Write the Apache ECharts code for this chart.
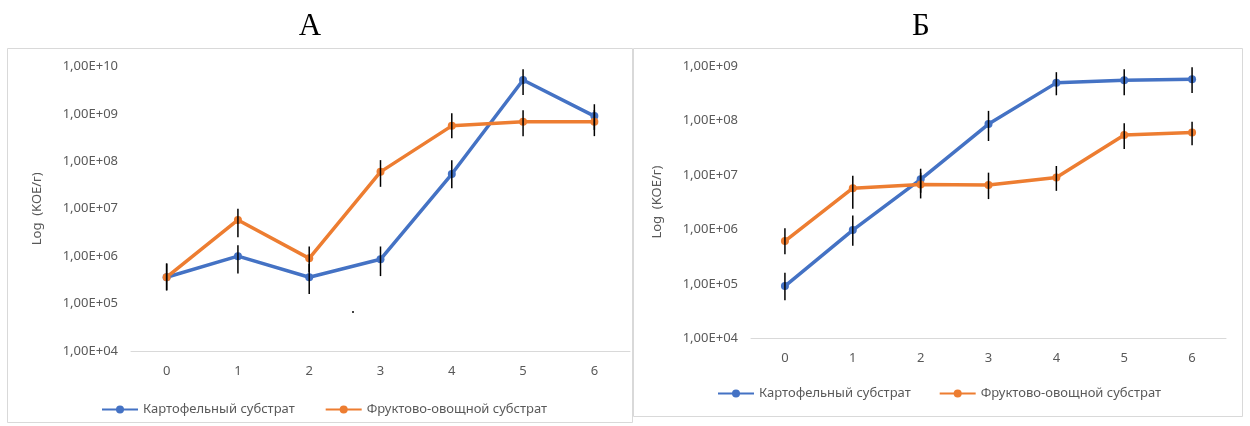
<!DOCTYPE html>
<html>
<head>
<meta charset="utf-8">
<script src="https://cdn.jsdelivr.net/npm/echarts@6/dist/echarts.min.js"></script>
<style>
html,body{margin:0;padding:0;background:#fff;}
#c{width:1250px;height:426px;}
</style>
</head>
<body>
<div id="c"></div>
<script>
// ---- data ----
const categories = ['0', '1', '2', '3', '4', '5', '6'];
const seriesNames = ['Картофельный субстрат', 'Фруктово-овощной субстрат'];
const panelTitles = ['А', 'Б'];
const yAxisName = 'Log  (KOE/г)';

// Panel А
const potatoA = [3.6e5, 1.0e6, 3.6e5, 8.6e5, 5.4e7, 5.2e9, 9.0e8];
const potatoA_low = [1.9e5, 4.3e5, 1.6e5, 3.8e5, 2.7e7, 2.5e9, 4.6e8];
const potatoA_high = [7.0e5, 1.7e6, 6.8e5, 1.6e6, 1.06e8, 8.7e9, 1.6e9];
const fruitA = [3.6e5, 5.8e6, 9.0e5, 6.0e7, 5.6e8, 6.8e8, 6.8e8];
const fruitA_low = [1.9e5, 2.5e6, 4.6e5, 2.9e7, 3.05e8, 3.4e8, 3.4e8];
const fruitA_high = [7.0e5, 1.0e7, 1.6e6, 1.06e8, 1.03e9, 1.2e9, 1.2e9];

// Panel Б
const potatoB = [9.1e4, 9.7e5, 8.3e6, 8.6e7, 4.9e8, 5.5e8, 5.7e8];
const potatoB_low = [5.0e4, 5.0e5, 4.7e6, 4.2e7, 2.9e8, 2.9e8, 3.2e8];
const potatoB_high = [1.6e5, 1.8e6, 1.3e7, 1.5e8, 7.7e8, 8.7e8, 9.5e8];
const fruitB = [6.1e5, 5.7e6, 6.7e6, 6.5e6, 9.0e6, 5.4e7, 6.0e7];
const fruitB_low = [3.5e5, 2.4e6, 3.7e6, 3.6e6, 5.1e6, 3.0e7, 3.5e7];
const fruitB_high = [1.05e6, 9.7e6, 1.1e7, 1.1e7, 1.46e7, 8.9e7, 9.5e7];

const yMinA = 1e4, yMaxA = 1e10;
const yMinB = 1e4, yMaxB = 1e9;

// ---- helpers ----
const BLUE = '#4472C4', ORANGE = '#ED7D31', TXT = '#595959', GRIDC = '#d9d9d9';
const FONT = 'Noto Sans';

function sci(v) {
  const e = Math.round(Math.log10(v));
  return '1,00E+' + (e < 10 ? '0' + e : '' + e);
}
function errData(low, high) {
  return categories.map((c, i) => [i, low[i], high[i]]);
}
function errSeries(idx, low, high) {
  return {
    type: 'custom',
    xAxisIndex: idx, yAxisIndex: idx,
    silent: true,
    z: 10,
    encode: { x: 0, y: [1, 2] },
    data: errData(low, high),
    renderItem: function (params, api) {
      const p1 = api.coord([api.value(0), api.value(1)]);
      const p2 = api.coord([api.value(0), api.value(2)]);
      return {
        type: 'line',
        shape: { x1: p1[0], y1: p1[1], x2: p2[0], y2: p2[1] },
        style: { stroke: '#000', lineWidth: 1.5 }
      };
    }
  };
}
function lineSeries(idx, name, data, color) {
  return {
    type: 'line', name: name,
    xAxisIndex: idx, yAxisIndex: idx,
    data: data,
    symbol: 'circle', symbolSize: 8,
    itemStyle: { color: color },
    lineStyle: { color: color, width: 3.5 },
    z: 3
  };
}
function xAx(idx, margin) {
  return {
    type: 'category', gridIndex: idx, data: categories, boundaryGap: true,
    axisLine: { lineStyle: { color: GRIDC, width: 1 } },
    axisTick: { show: false },
    axisLabel: { color: TXT, fontSize: 13, fontFamily: FONT, margin: margin },
    splitLine: { show: false }
  };
}
function yAx(idx, min, max, gap) {
  return {
    type: 'log', logBase: 10, gridIndex: idx, min: min, max: max, interval: 1,
    name: yAxisName, nameLocation: 'middle', nameRotate: 90, nameGap: gap,
    nameTextStyle: { color: TXT, fontSize: 13, fontFamily: FONT },
    axisLine: { show: false }, axisTick: { show: false },
    splitLine: { show: false },
    axisLabel: { color: TXT, fontSize: 13, fontFamily: FONT, margin: 13, formatter: sci }
  };
}

const chart = echarts.init(document.getElementById('c'), null, { renderer: 'canvas' });
chart.setOption({
  backgroundColor: '#fff',
  animation: false,
  title: [
    { text: panelTitles[0], left: 305, top: 6, textAlign: 'center',
      textStyle: { fontFamily: 'Liberation Serif', fontSize: 31, fontWeight: 'normal', color: '#000' } },
    { text: panelTitles[1], left: 916, top: 6, textAlign: 'center',
      textStyle: { fontFamily: 'Liberation Serif', fontSize: 31, fontWeight: 'normal', color: '#000' } }
  ],
  graphic: [
    { type: 'rect', shape: { x: 7.5, y: 48.5, width: 625, height: 374 }, style: { fill: null, stroke: GRIDC, lineWidth: 1 }, z: -1 },
    { type: 'rect', shape: { x: 633.5, y: 48.5, width: 609, height: 368 }, style: { fill: null, stroke: GRIDC, lineWidth: 1 }, z: -1 },
    { type: 'rect', shape: { x: 352, y: 311, width: 2, height: 2 }, style: { fill: '#444' } }
  ],
  legend: [
    { data: seriesNames, left: 96, top: 398, itemWidth: 36, itemHeight: 10, itemGap: 30,
      textStyle: { color: TXT, fontSize: 13, fontFamily: FONT } },
    { data: seriesNames, left: 712, top: 382, itemWidth: 36, itemHeight: 10, itemGap: 28,
      textStyle: { color: TXT, fontSize: 13, fontFamily: FONT } }
  ],
  grid: [
    { left: 131, top: 66.5, width: 499, height: 284.5 },
    { left: 751, top: 66, width: 475, height: 272.3 }
  ],
  xAxis: [xAx(0, 14), xAx(1, 13)],
  yAxis: [yAx(0, yMinA, yMaxA, 87), yAx(1, yMinB, yMaxB, 87)],
  series: [
    lineSeries(0, seriesNames[0], potatoA, BLUE),
    lineSeries(0, seriesNames[1], fruitA, ORANGE),
    lineSeries(1, seriesNames[0], potatoB, BLUE),
    lineSeries(1, seriesNames[1], fruitB, ORANGE),
    errSeries(0, potatoA_low, potatoA_high),
    errSeries(0, fruitA_low, fruitA_high),
    errSeries(1, potatoB_low, potatoB_high),
    errSeries(1, fruitB_low, fruitB_high)
  ]
});
</script>
</body>
</html>
